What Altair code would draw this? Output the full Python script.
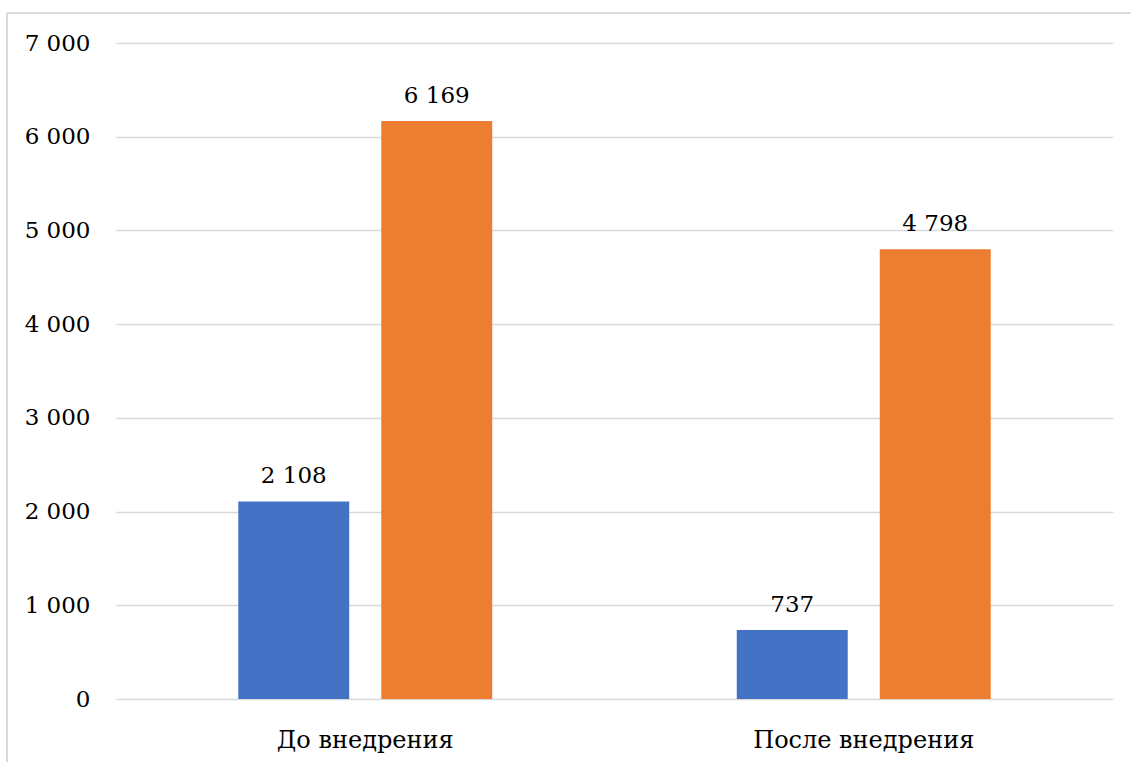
import altair as alt
import pandas as pd

categories = ["До внедрения", "После внедрения"]
series = ["Ряд 1", "Ряд 2"]
values_s1 = [2108, 737]
values_s2 = [6169, 4798]
colors = ["#4472C4", "#ED7D31"]

rows = []
for i, c in enumerate(categories):
    rows.append({"cat": c, "series": series[0], "value": values_s1[i]})
    rows.append({"cat": c, "series": series[1], "value": values_s2[i]})
df = pd.DataFrame(rows)

FONT = "DejaVu Serif"

base = alt.Chart(df).encode(
    x=alt.X("cat:N", sort=categories,
            scale=alt.Scale(paddingInner=0, paddingOuter=0),
            axis=alt.Axis(title=None, labelAngle=0, labelFont=FONT, labelFontSize=24,
                          labelColor="#000000", ticks=False, domain=False,
                          labelBaseline="alphabetic", labelPadding=48,
                          grid=False, labelLimit=0)),
    xOffset=alt.XOffset("series:N", sort=series,
                        scale=alt.Scale(paddingInner=0.224, paddingOuter=0.855)),
    y=alt.Y("value:Q", scale=alt.Scale(domain=[0, 7000], nice=False),
            axis=alt.Axis(title=None, values=[0, 1000, 2000, 3000, 4000, 5000, 6000, 7000],
                          labelExpr="replace(format(datum.value, ','), ',', ' ')",
                          labelFont=FONT, labelFontSize=23, labelColor="#000000",
                          ticks=False, domain=False, labelPadding=26, labelLimit=0,
                          gridColor="#d9d9d9", gridWidth=1.5)),
)

bars = base.mark_bar().encode(
    color=alt.Color("series:N", sort=series,
                    scale=alt.Scale(domain=series, range=colors), legend=None)
)

labels = base.transform_calculate(
    lbl="replace(format(datum.value, ','), ',', ' ')"
).mark_text(baseline="alphabetic", dy=-18, font=FONT, fontSize=23, color="#000000").encode(
    text="lbl:N"
)

border_left = alt.Chart(pd.DataFrame({"a": [0]})).mark_rule(color="#d9d9d9", strokeWidth=2).encode(
    x=alt.value(-109), y=alt.value(-30), y2=alt.value(730)
)
border_top = alt.Chart(pd.DataFrame({"a": [0]})).mark_rule(color="#d9d9d9", strokeWidth=2).encode(
    x=alt.value(-109), x2=alt.value(1030), y=alt.value(-30)
)

chart = alt.layer(bars, labels, border_left, border_top).properties(
    width=997, height=656,
    autosize=alt.AutoSizeParams(type="none"),
    padding={"left": 116, "top": 43, "right": 18, "bottom": 63},
    background="#ffffff",
).configure_view(stroke=None)

chart.save("out.html", embed_options={"renderer": "svg", "actions": False})
